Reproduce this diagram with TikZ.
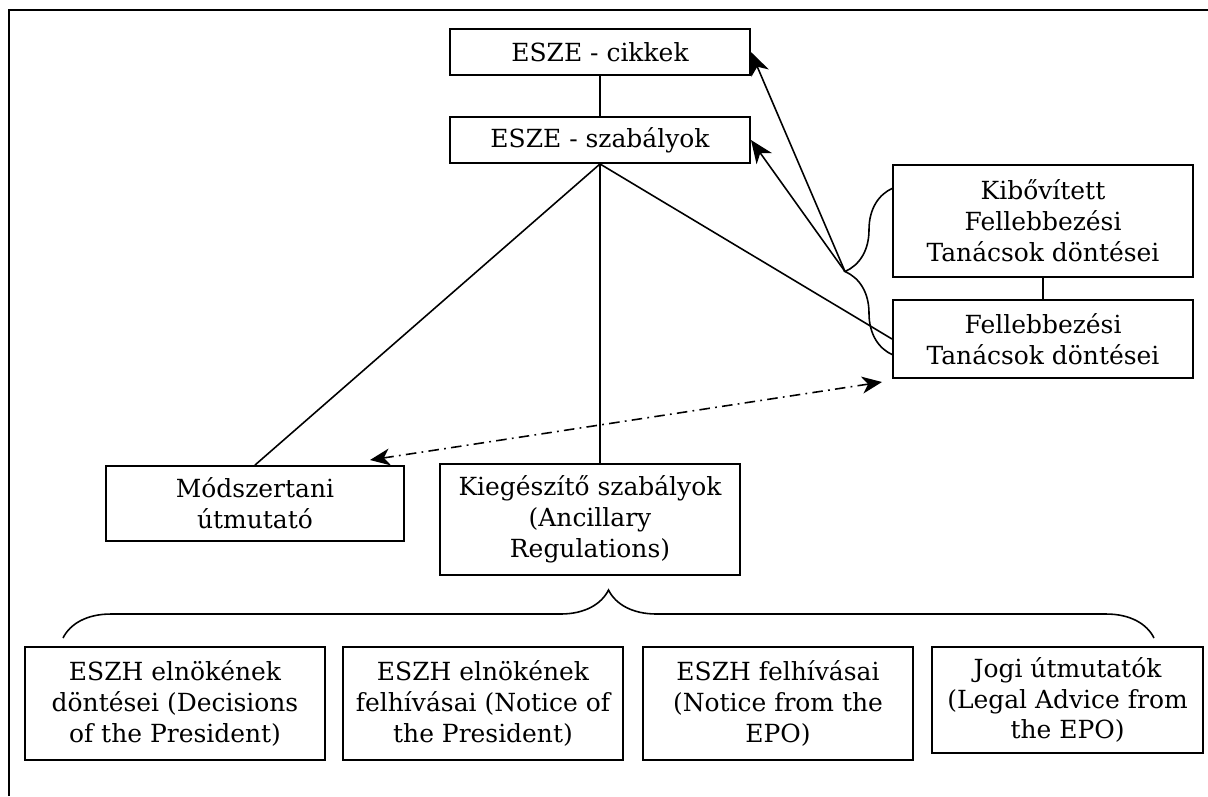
\documentclass[tikz,border=0pt]{standalone}
\usepackage{fontspec}
\setmainfont{DejaVu Serif}
\usepackage{tikz}
\usetikzlibrary{arrows.meta,decorations.pathreplacing}
\tikzset{
  doc/.style={draw, line width=1.1pt, align=center, inner sep=2pt,
              font=\fontsize{14.2}{17.6}\selectfont},
  conn/.style={line width=0.9pt},
  ref/.style={-{Stealth[length=4.6mm,width=3.8mm,inset=1.4mm]}, line width=0.9pt},
  xref/.style={{Stealth[length=4mm,width=3.4mm,inset=1.2mm]}-{Stealth[length=4mm,width=3.4mm,inset=1.2mm]},
               line width=0.9pt, dash pattern=on 6pt off 3pt on 1pt off 3pt},
  brc/.style={decorate, decoration={brace, amplitude=0.96cm}, line width=0.9pt},
  frame/.style={line width=1.3pt},
}
\begin{document}
\begin{tikzpicture}

\useasboundingbox (0,0) rectangle (24.16,-15.92);
\draw[frame] (0.18,-15.92) -- (0.18,-0.2) -- (24.16,-0.2);

% main line
\node[doc, minimum width=6cm, minimum height=0.92cm] (cikk) at (12.0,-1.04) {ESZE - cikkek};
\node[doc, minimum width=6cm, minimum height=0.92cm] (szab) at (12.0,-2.8) {ESZE - szabályok};

% case law
\node[doc, minimum width=6cm, minimum height=2.24cm] (kibov) at (20.86,-4.42)
  {Kibővített\\Fellebbezési\\Tanácsok döntései};
\node[doc, minimum width=6cm, minimum height=1.56cm] (fell) at (20.86,-6.78)
  {Fellebbezési\\Tanácsok döntései};

\node[doc, minimum width=5.96cm, minimum height=1.5cm] (modsz) at (5.1,-10.07)
  {Módszertani\\útmutató};
\node[doc, minimum width=6cm, minimum height=2.22cm] (kieg) at (11.8,-10.39)
  {Kiegészítő szabályok\\(Ancillary\\Regulations)};

% ancillary documents
\foreach \n/\x/\w/\txt in {
    b1/3.5/6.0/{ESZH elnökének\\döntései (Decisions\\of the President)},
    b2/9.66/5.6/{ESZH elnökének\\felhívásai (Notice of\\the President)},
    b3/15.56/5.4/{ESZH felhívásai\\(Notice from the\\EPO)}} {
  \node[doc, minimum width=\w cm, minimum height=2.26cm] (\n) at (\x,-14.07) {\txt};
}
\node[doc, minimum width=5.42cm, minimum height=2.12cm] (b4) at (21.35,-14.0)
  {Jogi útmutatók\\(Legal Advice from\\the EPO)};

\draw[conn] (cikk) -- (szab);
\draw[conn] (kibov) -- (fell);
\draw[conn] (szab.south) -- (modsz.north);
\draw[conn] (szab.south) -- (szab.south |- kieg.north);
\draw[conn] (szab.south) -- (fell.west);

\draw[brc] (17.86,-7.1) -- (17.86,-3.76);
\coordinate (tipr) at (16.9,-5.43);
\draw[ref] (tipr) -- (cikk.east);
\draw[ref] (tipr) -- (szab.east);

\coordinate (dl) at (7.4,-9.2);
\coordinate (dr) at (17.64,-7.64);
\draw[xref] (dl) -- (dr);

\draw[brc] (1.26,-12.76) -- (23.08,-12.76);

\end{tikzpicture}
\end{document}
